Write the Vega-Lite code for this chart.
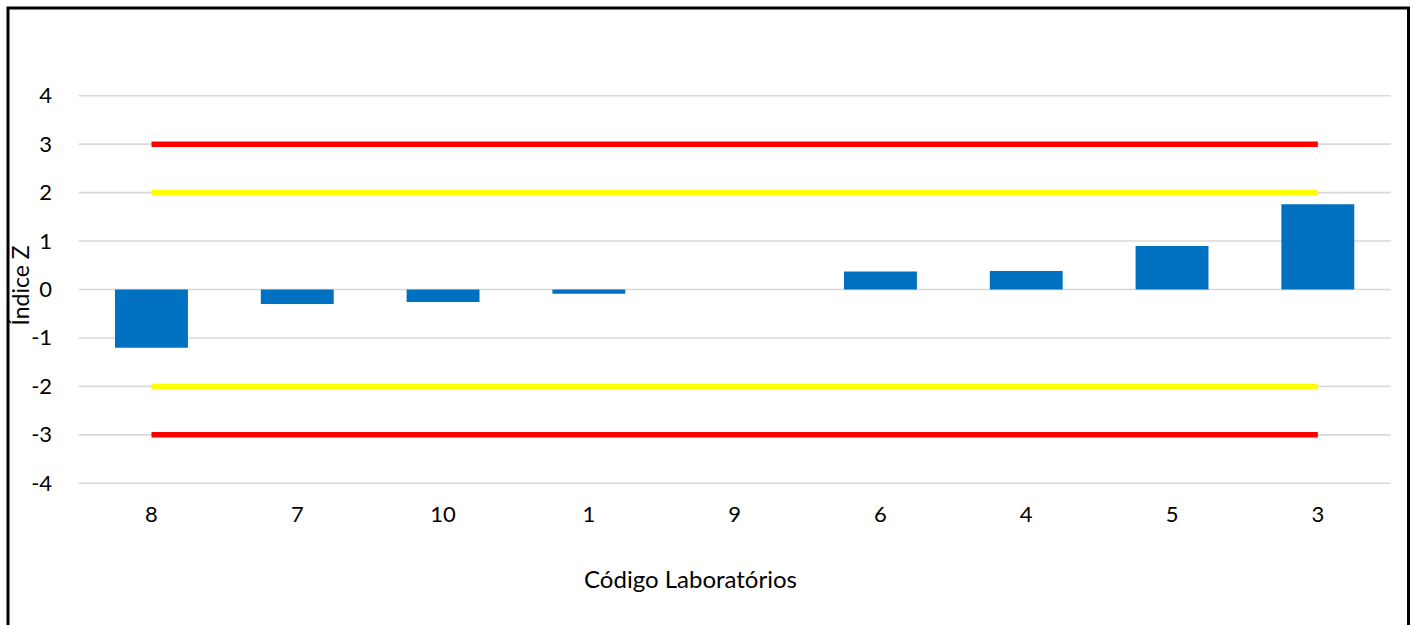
{
  "$schema": "https://vega.github.io/schema/vega-lite/v6.json",
  "width": 1400.5,
  "height": 620,
  "autosize": {"type": "none"},
  "padding": {"left": 8, "top": 8, "right": 8.5, "bottom": -3},
  "background": "white",
  "config": {
    "view": {"stroke": "black", "strokeWidth": 3},
    "font": "Lato",
    "axis": {
      "grid": false,
      "domain": false,
      "ticks": false,
      "labelFontSize": 22,
      "labelColor": "black",
      "labelFont": "Lato",
      "titleFont": "Lato",
      "titleFontSize": 23,
      "titleFontWeight": "normal",
      "titleColor": "black",
      "titleAlign": "center",
      "titleBaseline": "middle"
    },
    "axisX": {
      "offset": -145,
      "labelAngle": 0,
      "labelPadding": 21,
      "titleFontSize": 24,
      "titleX": 682,
      "titleY": 97
    },
    "axisY": {
      "offset": -70.6,
      "labelPadding": 27,
      "titleAngle": -90,
      "titleX": -57.6,
      "titleY": 277,
      "labelExpr": "replace(datum.label, '−', '-')"
    }
  },
  "datasets": {
    "bars": [
      {"code": "8", "z": -1.2},
      {"code": "7", "z": -0.3},
      {"code": "10", "z": -0.26},
      {"code": "1", "z": -0.09},
      {"code": "9", "z": 0},
      {"code": "6", "z": 0.37},
      {"code": "4", "z": 0.38},
      {"code": "5", "z": 0.9},
      {"code": "3", "z": 1.76}
    ],
    "grid": [
      {"code": "8", "code2": "3", "z": -4},
      {"code": "8", "code2": "3", "z": -3},
      {"code": "8", "code2": "3", "z": -2},
      {"code": "8", "code2": "3", "z": -1},
      {"code": "8", "code2": "3", "z": 0},
      {"code": "8", "code2": "3", "z": 1},
      {"code": "8", "code2": "3", "z": 2},
      {"code": "8", "code2": "3", "z": 3},
      {"code": "8", "code2": "3", "z": 4}
    ],
    "limits": [
      {"code": "8", "code2": "3", "z": 3, "level": "ação"},
      {"code": "8", "code2": "3", "z": -3, "level": "ação"},
      {"code": "8", "code2": "3", "z": 2, "level": "alerta"},
      {"code": "8", "code2": "3", "z": -2, "level": "alerta"}
    ]
  },
  "layer": [
    {
      "data": {"name": "grid"},
      "mark": {"type": "rule", "color": "#D9D9D9", "strokeWidth": 1.6},
      "encoding": {
        "x": {"field": "code", "type": "nominal", "bandPosition": -0.5, "sort": null, "title": "Código Laboratórios"},
        "x2": {"field": "code2", "bandPosition": 1.5},
        "y": {"field": "z", "type": "quantitative", "title": "Índice Z", "axis": {"values": [-4, -3, -2, -1, 0, 1, 2, 3, 4]}}
      }
    },
    {
      "data": {"name": "bars"},
      "mark": {"type": "bar", "color": "#0070C0"},
      "encoding": {
        "x": {
          "field": "code",
          "type": "nominal",
          "sort": null,
          "title": "Código Laboratórios",
          "scale": {
            "domain": ["8", "7", "10", "1", "9", "6", "4", "5", "3"],
            "paddingInner": 0.5,
            "paddingOuter": 0.553,
            "align": 0.6637
          }
        },
        "y": {
          "field": "z",
          "type": "quantitative",
          "title": "Índice Z",
          "scale": {"domain": [-6.987, 5.81], "nice": false, "zero": false},
          "axis": {"values": [-4, -3, -2, -1, 0, 1, 2, 3, 4]}
        }
      }
    },
    {
      "data": {"name": "limits"},
      "mark": {"type": "rule", "strokeWidth": 5.5},
      "encoding": {
        "x": {"field": "code", "type": "nominal", "bandPosition": 0.5, "sort": null, "title": "Código Laboratórios"},
        "x2": {"field": "code2", "bandPosition": 0.5},
        "y": {"field": "z", "type": "quantitative", "title": "Índice Z", "axis": {"values": [-4, -3, -2, -1, 0, 1, 2, 3, 4]}},
        "color": {
          "field": "level",
          "type": "nominal",
          "scale": {"domain": ["ação", "alerta"], "range": ["#FF0000", "#FFFF00"]},
          "legend": null
        }
      }
    }
  ]
}
